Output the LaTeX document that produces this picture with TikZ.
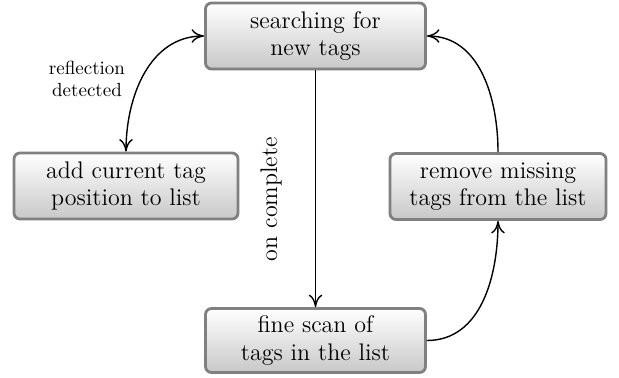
\documentclass[tikz,border=0pt,12pt]{standalone}
\usetikzlibrary{arrows.meta, positioning, shadings}
\definecolor{cFrame}{RGB}{128,128,128}
\definecolor{cShade}{RGB}{200,200,200}
\tikzset{
	state/.style   ={rectangle, rounded corners=3pt, draw=cFrame, line width=1.4pt, top color=white, bottom color=cShade, minimum width=110pt, minimum height=33pt, align=center, inner sep=2pt},
	trans/.style   ={-{To[length=2.2mm, width=2.4mm]}, line width=0.7pt},
	bitrans/.style ={{To[length=2.2mm, width=2.4mm]}-{To[length=2.2mm, width=2.4mm]}, line width=0.7pt},
	edgelbl/.style ={font=\rmfamily\fontsize{9.5}{11}\selectfont, align=center},
}
\begin{document}
\begin{tikzpicture}[x=0.5pt, y=-0.5pt, font=\rmfamily\fontsize{12}{13.6}\selectfont]
	\useasboundingbox (0,0) rectangle (619,378);
	% the four states
	\node[state] (search) at (315.5,36) {searching for\\new tags};
	\node[state, minimum width=112pt] (addpos) at (126,186) {add current tag\\position to list};
	\node[state, minimum width=108pt] (remove) at (498,186.5) {remove missing\\tags from the list};
	\node[state, minimum height=32pt] (fine) at (315.5,340.5) {fine scan of\\tags in the list};
	% transitions
	\draw[bitrans] (search.west) to[out=180, in=90] (addpos.north);
	\node[edgelbl] (refl) at (87,79) {reflection\\detected};
	\draw[trans] (search.south) -- (fine.north);
	\node[rotate=90] (done) at (271,199) {on complete};
	\draw[trans] (fine.east) to[out=0, in=-90] (remove.south);
	\draw[trans] (remove.north) to[out=90, in=0] (search.east);
\end{tikzpicture}
\end{document}
